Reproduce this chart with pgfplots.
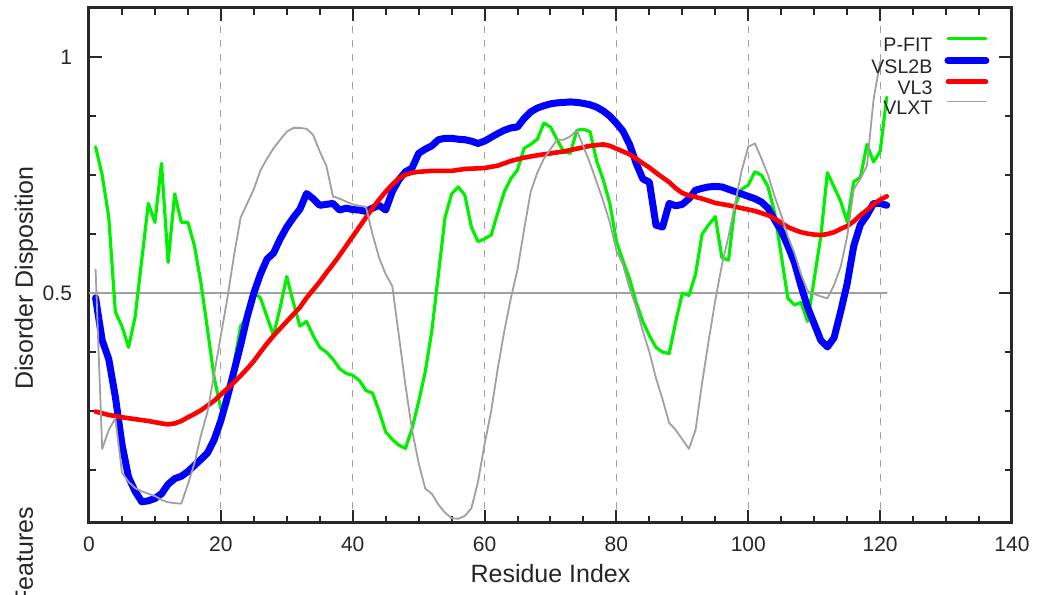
\documentclass[border=0pt]{standalone}
\usepackage{fontspec}
\setmainfont{Liberation Sans}
\usepackage{pgfplots}
\pgfplotsset{compat=1.18}
\definecolor{pgreen}{RGB}{0,240,0}
\definecolor{vgrey}{RGB}{160,160,160}
\definecolor{frame}{RGB}{40,40,40}
\begin{document}
\begin{tikzpicture}
\begin{axis}[
  name=ax, at={(0,0)}, anchor=south west,
  scale only axis, width=461.5pt, height=257.5pt,
  xmin=0, xmax=140, ymin=0.013, ymax=1.104,
  xtick={0,20,40,60,80,100,120,140},
  minor xtick={5,10,15,25,30,35,45,50,55,65,70,75,85,90,95,105,110,115,125,130,135},
  ytick={0.5,1},
  minor ytick={0.125,0.25,0.375,0.625,0.75,0.875},
  tick align=inside,
  major tick length=6.5pt, minor tick length=3.5pt,
  tick style={line width=1pt, frame},
  axis line style={line width=1.5pt, frame},
  xmajorgrids=true,
  major grid style={dash pattern=on 3.5pt off 3.5pt, line width=0.6pt, vgrey},
  /pgf/number format/assume math mode=true,
  ticklabel style={font=\fontsize{10.5}{12}\selectfont, text=black!85},
  xticklabel style={yshift=-3.5pt},
  yticklabel style={xshift=-5pt},
  legend cell align=right,
  legend plot pos=right,
  legend image code/.code={\draw[#1] (0pt,3pt) -- (19pt,3pt);},
  legend style={draw=none, fill=none, at={(axis description cs:0.976,0.945)}, anchor=north east,
     font=\fontsize{9.8}{10}\selectfont, text=black!85, inner sep=0pt, row sep=2.9pt, column sep=6pt,
     nodes={inner sep=0pt, text height=7pt, text depth=0pt}},
  every axis plot/.append style={line join=round, line cap=round},
]
\addplot[vgrey, line width=1pt, forget plot] coordinates {(0,0.5) (121,0.5)};
\addplot[pgreen, line width=1.6pt] coordinates {
(1,0.81) (2,0.75) (3,0.66) (4,0.46) (5,0.43) (6,0.385) (7,0.45) (8,0.57) (9,0.69) (10,0.65)
(11,0.775) (12,0.565) (13,0.71) (14,0.65) (15,0.65) (16,0.60) (17,0.52) (18,0.42) (19,0.32) (20,0.255)
(21,0.265) (22,0.35) (23,0.43) (24,0.45) (25,0.50) (26,0.49) (27,0.45) (28,0.41) (29,0.47) (30,0.535)
(31,0.48) (32,0.43) (33,0.44) (34,0.41) (35,0.385) (36,0.375) (37,0.36) (38,0.34) (39,0.33) (40,0.326)
(41,0.315) (42,0.294) (43,0.288) (44,0.25) (45,0.206) (46,0.19) (47,0.178) (48,0.171) (49,0.213) (50,0.27)
(51,0.333) (52,0.42) (53,0.54) (54,0.66) (55,0.71) (56,0.725) (57,0.708) (58,0.64) (59,0.609) (60,0.615)
(61,0.623) (62,0.67) (63,0.715) (64,0.743) (65,0.761) (66,0.807) (67,0.815) (68,0.826) (69,0.86) (70,0.852)
(71,0.825) (72,0.80) (73,0.796) (74,0.845) (75,0.847) (76,0.842) (77,0.78) (78,0.74) (79,0.69) (80,0.61)
(81,0.568) (82,0.53) (83,0.48) (84,0.44) (85,0.41) (86,0.385) (87,0.375) (88,0.372) (89,0.44) (90,0.50)
(91,0.495) (92,0.54) (93,0.625) (94,0.645) (95,0.662) (96,0.575) (97,0.57) (98,0.686) (99,0.72) (100,0.729)
(101,0.757) (102,0.75) (103,0.725) (104,0.67) (105,0.58) (106,0.489) (107,0.475) (108,0.48) (109,0.44) (110,0.53)
(111,0.62) (112,0.755) (113,0.725) (114,0.695) (115,0.651) (116,0.736) (117,0.745) (118,0.815) (119,0.778) (120,0.80)
(121,0.915)};
\addlegendentry{P-FIT}
\addplot[blue, line width=3.5pt] coordinates {
(1,0.49) (2,0.40) (3,0.36) (4,0.28) (5,0.18) (6,0.11) (7,0.08) (8,0.058) (9,0.06) (10,0.065)
(11,0.075) (12,0.095) (13,0.107) (14,0.112) (15,0.122) (16,0.135) (17,0.148) (18,0.162) (19,0.19) (20,0.23)
(21,0.28) (22,0.335) (23,0.39) (24,0.45) (25,0.50) (26,0.54) (27,0.572) (28,0.585) (29,0.615) (30,0.64)
(31,0.66) (32,0.678) (33,0.711) (34,0.70) (35,0.686) (36,0.688) (37,0.69) (38,0.676) (39,0.68) (40,0.677)
(41,0.676) (42,0.673) (43,0.68) (44,0.686) (45,0.676) (46,0.715) (47,0.74) (48,0.757) (49,0.765) (50,0.796)
(51,0.805) (52,0.812) (53,0.825) (54,0.828) (55,0.828) (56,0.826) (57,0.825) (58,0.822) (59,0.817) (60,0.822)
(61,0.83) (62,0.838) (63,0.845) (64,0.85) (65,0.852) (66,0.87) (67,0.884) (68,0.892) (69,0.897) (70,0.901)
(71,0.903) (72,0.904) (73,0.905) (74,0.904) (75,0.902) (76,0.899) (77,0.894) (78,0.886) (79,0.875) (80,0.86)
(81,0.843) (82,0.815) (83,0.775) (84,0.742) (85,0.735) (86,0.644) (87,0.64) (88,0.69) (89,0.685) (90,0.688)
(91,0.70) (92,0.718) (93,0.722) (94,0.725) (95,0.726) (96,0.725) (97,0.72) (98,0.715) (99,0.71) (100,0.705)
(101,0.70) (102,0.693) (103,0.68) (104,0.655) (105,0.632) (106,0.60) (107,0.565) (108,0.515) (109,0.47) (110,0.435)
(111,0.40) (112,0.386) (113,0.405) (114,0.46) (115,0.52) (116,0.60) (117,0.645) (118,0.665) (119,0.69) (120,0.69)
(121,0.686)};
\addlegendentry{VSL2B}
\addplot[red, line width=2.3pt] coordinates {
(1,0.249) (3,0.242) (5,0.237) (7,0.233) (9,0.229) (11,0.224) (12,0.222) (13,0.224) (14,0.229) (15,0.237)
(16,0.244) (17,0.252) (18,0.262) (19,0.272) (20,0.285) (21,0.298) (22,0.311) (23,0.325) (24,0.34) (25,0.356)
(26,0.375) (27,0.393) (28,0.41) (29,0.425) (30,0.44) (31,0.455) (32,0.47) (33,0.49) (34,0.507) (35,0.524)
(36,0.543) (37,0.561) (38,0.58) (39,0.60) (40,0.62) (41,0.64) (42,0.66) (43,0.68) (44,0.698) (45,0.715)
(46,0.73) (47,0.743) (48,0.751) (49,0.755) (50,0.757) (52,0.759) (55,0.759) (57,0.763) (60,0.765) (62,0.77)
(64,0.78) (66,0.787) (68,0.792) (70,0.796) (72,0.80) (74,0.806) (76,0.812) (78,0.815) (79,0.812) (80,0.806)
(81,0.80) (82,0.794) (83,0.785) (84,0.775) (85,0.766) (86,0.755) (87,0.745) (88,0.735) (89,0.722) (90,0.712)
(91,0.707) (93,0.70) (95,0.691) (97,0.686) (99,0.68) (101,0.674) (103,0.665) (104,0.658) (105,0.649) (106,0.64)
(107,0.634) (108,0.629) (109,0.626) (110,0.624) (111,0.623) (112,0.625) (113,0.629) (114,0.636) (115,0.642) (116,0.652)
(117,0.665) (118,0.676) (119,0.688) (120,0.698) (121,0.705)};
\addlegendentry{VL3}
\addplot[vgrey, line width=0.9pt] coordinates {
(1,0.55) (2,0.17) (3,0.21) (4,0.235) (5,0.12) (6,0.10) (7,0.087) (8,0.08) (9,0.075) (10,0.07)
(11,0.062) (12,0.057) (13,0.055) (14,0.054) (15,0.095) (16,0.14) (17,0.20) (18,0.25) (19,0.33) (20,0.41)
(21,0.49) (22,0.58) (23,0.66) (24,0.69) (25,0.72) (26,0.76) (27,0.785) (28,0.807) (29,0.825) (30,0.842)
(31,0.85) (32,0.85) (33,0.848) (34,0.835) (35,0.80) (36,0.77) (37,0.705) (38,0.70) (39,0.694) (40,0.688)
(41,0.685) (42,0.683) (43,0.625) (44,0.575) (45,0.54) (46,0.515) (47,0.41) (48,0.305) (49,0.21) (50,0.14)
(51,0.086) (52,0.075) (53,0.052) (54,0.035) (55,0.023) (56,0.022) (57,0.028) (58,0.044) (59,0.10) (60,0.18)
(61,0.25) (62,0.34) (63,0.42) (64,0.49) (65,0.55) (66,0.635) (67,0.715) (68,0.755) (69,0.785) (70,0.805)
(71,0.825) (72,0.825) (73,0.832) (74,0.845) (75,0.81) (76,0.775) (77,0.735) (78,0.695) (79,0.65) (80,0.59)
(81,0.56) (82,0.51) (83,0.47) (84,0.42) (85,0.375) (86,0.32) (87,0.275) (88,0.225) (89,0.21) (90,0.19)
(91,0.17) (92,0.21) (93,0.31) (94,0.40) (95,0.485) (96,0.56) (97,0.62) (98,0.69) (99,0.76) (100,0.81)
(101,0.817) (102,0.785) (103,0.75) (104,0.705) (105,0.665) (106,0.62) (107,0.585) (108,0.54) (109,0.505) (110,0.498)
(111,0.493) (112,0.489) (113,0.517) (114,0.555) (115,0.62) (116,0.72) (117,0.742) (118,0.77) (119,0.91) (120,0.99)};
\addlegendentry{VLXT}
\end{axis}
\node[rotate=90, anchor=base, font=\fontsize{12.5}{14}\selectfont, text=black!85] at (-28pt,122.5pt) {Disorder Disposition};
\node[rotate=90, anchor=base east, font=\fontsize{12.5}{14}\selectfont, text=black!85] at (-28pt,11.5pt) {Features};
\node[anchor=base, font=\fontsize{12.5}{14}\selectfont, text=black!85] at (230.75pt,-30pt) {Residue Index};
\pgfresetboundingbox
\path[use as bounding box] (-44.5pt,-36pt) rectangle (476pt,261.5pt);
\end{tikzpicture}
\end{document}
